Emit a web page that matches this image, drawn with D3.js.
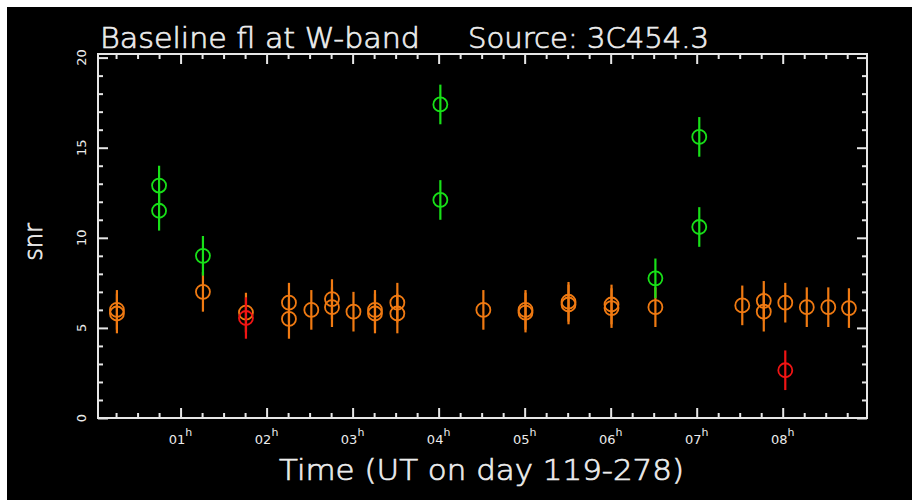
<!DOCTYPE html>
<html>

<head>
    <meta charset="utf-8">
    <style>
        body {
            margin: 0;
            background: #fff;
        }

        svg text {
            font-family: "DejaVu Sans", Arial, sans-serif;
            fill: #ececec;
        }

        .big {
            font-weight: 200;
            stroke: #ececec;
            stroke-width: 0.7px;
        }
    </style>
</head>

<body>
    <svg width="912" height="500"></svg>

    <script src="https://d3js.org/d3.v7.min.js"></script>

    <script>
        // hours (UT) and snr for each colour group
        let orangeTime = [0.26, 0.26, 1.26, 1.76, 2.26, 2.26, 2.52, 2.76, 2.76, 3.01, 3.26, 3.26, 3.52, 3.52, 4.52, 5.01, 5.01, 5.51, 5.51, 6.01, 6.01, 6.52, 7.53, 7.78, 7.78, 8.03, 8.28, 8.53, 8.77]
        let orangeSnr = [5.8, 6.0, 7.0, 5.85, 6.4, 5.5, 6.0, 6.6, 6.15, 5.9, 6.0, 5.8, 6.4, 5.8, 6.0, 6.0, 5.85, 6.3, 6.45, 6.3, 6.1, 6.15, 6.25, 6.5, 5.9, 6.4, 6.15, 6.15, 6.1]
        let orangeErr = [1.1, 1.1, 1.1, 1.1, 1.1, 1.1, 1.1, 1.1, 1.1, 1.1, 1.1, 1.1, 1.1, 1.1, 1.1, 1.1, 1.1, 1.1, 1.1, 1.1, 1.1, 1.1, 1.1, 1.1, 1.1, 1.1, 1.1, 1.1, 1.1]

        let greenTime = [0.75, 0.75, 1.26, 4.02, 4.02, 6.52, 7.03, 7.03]
        let greenSnr = [12.9, 11.5, 9.0, 17.4, 12.1, 7.75, 15.6, 10.6]
        let greenErr = [1.1, 1.1, 1.1, 1.1, 1.1, 1.1, 1.1, 1.1]

        let redTime = [1.76, 8.03]
        let redSnr = [5.55, 2.65]
        let redErr = [1.15, 1.1]

        let hourTicks = [1, 2, 3, 4, 5, 6, 7, 8]
        let hourLabels = ["01", "02", "03", "04", "05", "06", "07", "08"]
        let snrTicks = [0, 5, 10, 15, 20]

        let svg = d3.select("svg")

        // black panel
        svg.append("rect")
            .attr("x", 7)
            .attr("y", 7)
            .attr("width", 905)
            .attr("height", 493)
            .style("fill", "#000")

        let x = d3.scaleLinear()
            .domain([0.04, 8.98])
            .range([98, 867])

        let y = d3.scaleLinear()
            .domain([0, 20.2])
            .range([418, 54])

        let minorX = d3.range(0.25, 8.98, 0.25).filter(d => d % 1 != 0)
        let minorY = d3.range(1, 20.2, 1).filter(d => d % 5 != 0)

        function tickAxis(axisFn, scale, values, size, tx, ty) {
            let g = svg.append("g")
                .attr("transform", "translate(" + tx + "," + ty + ")")
                .call(axisFn(scale).tickValues(values).tickSize(size).tickFormat(""))
            g.select(".domain").remove()
            g.selectAll("line").style("stroke", "#e6e6e6").style("stroke-width", 2)
            return g
        }

        // ticks on all four sides, pointing inward
        tickAxis(d3.axisBottom, x, hourTicks, -10, 0, 418)
        tickAxis(d3.axisBottom, x, minorX, -5, 0, 418)
        tickAxis(d3.axisTop, x, hourTicks, -10, 0, 54)
        tickAxis(d3.axisTop, x, minorX, -5, 0, 54)
        tickAxis(d3.axisLeft, y, snrTicks, -10, 98, 0)
        tickAxis(d3.axisLeft, y, minorY, -5, 98, 0)
        tickAxis(d3.axisRight, y, snrTicks, -10, 867, 0)
        tickAxis(d3.axisRight, y, minorY, -5, 867, 0)

        // frame
        svg.append("rect")
            .attr("x", x.range()[0])
            .attr("y", y.range()[1])
            .attr("width", x.range()[1] - x.range()[0])
            .attr("height", y.range()[0] - y.range()[1])
            .style("fill", "none")
            .style("stroke", "#e6e6e6")
            .style("stroke-width", 2)

        // x tick labels with superscript h
        let xl = svg.append("g")
            .selectAll("text")
            .data(hourTicks)
            .join("text")
            .attr("x", d => x(d))
            .attr("y", 444)
            .attr("text-anchor", "middle")
            .style("font-size", "13px")
        xl.append("tspan").text((d, i) => hourLabels[i])
        xl.append("tspan").attr("dy", -8).style("font-size", "11px").text("h")

        // y tick labels, rotated
        svg.append("g")
            .selectAll("text")
            .data(snrTicks)
            .join("text")
            .attr("transform", d => "translate(86," + y(d) + ") rotate(-90)")
            .attr("text-anchor", "middle")
            .style("font-size", "13px")
            .text(d => d)

        svg.append("text")
            .attr("class", "big")
            .attr("transform", "translate(42,242) rotate(-90)")
            .attr("text-anchor", "middle")
            .style("font-size", "24px")
            .text("snr")

        svg.append("text")
            .attr("class", "big")
            .attr("x", 100)
            .attr("y", 48)
            .attr("textLength", 320)
            .attr("lengthAdjust", "spacingAndGlyphs")
            .style("font-size", "29px")
            .text("Baseline fl at W-band")

        svg.append("text")
            .attr("class", "big")
            .attr("x", 468)
            .attr("y", 48)
            .attr("textLength", 241)
            .attr("lengthAdjust", "spacingAndGlyphs")
            .style("font-size", "29px")
            .text("Source: 3C454.3")

        svg.append("text")
            .attr("class", "big")
            .attr("x", 279)
            .attr("y", 480)
            .attr("textLength", 405)
            .attr("lengthAdjust", "spacingAndGlyphs")
            .style("font-size", "29px")
            .text("Time (UT on day 119-278)")

        // points with error bars
        function drawGroup(times, snrs, errs, color) {
            let data = times.map((t, i) => ({ t: t, snr: snrs[i], err: errs[i] }))
            let g = svg.append("g")
            g.selectAll("line")
                .data(data)
                .join("line")
                .attr("x1", d => x(d.t))
                .attr("x2", d => x(d.t))
                .attr("y1", d => y(d.snr - d.err))
                .attr("y2", d => y(d.snr + d.err))
                .style("stroke", color)
                .style("stroke-width", 2.2)
            g.selectAll("circle")
                .data(data)
                .join("circle")
                .attr("cx", d => x(d.t))
                .attr("cy", d => y(d.snr))
                .attr("r", 7)
                .style("fill", "none")
                .style("stroke", color)
                .style("stroke-width", 1.8)
        }

        drawGroup(orangeTime, orangeSnr, orangeErr, "#f07a12")
        drawGroup(greenTime, greenSnr, greenErr, "#18e018")
        drawGroup(redTime, redSnr, redErr, "#f01414")
    </script>
</body>

</html>
